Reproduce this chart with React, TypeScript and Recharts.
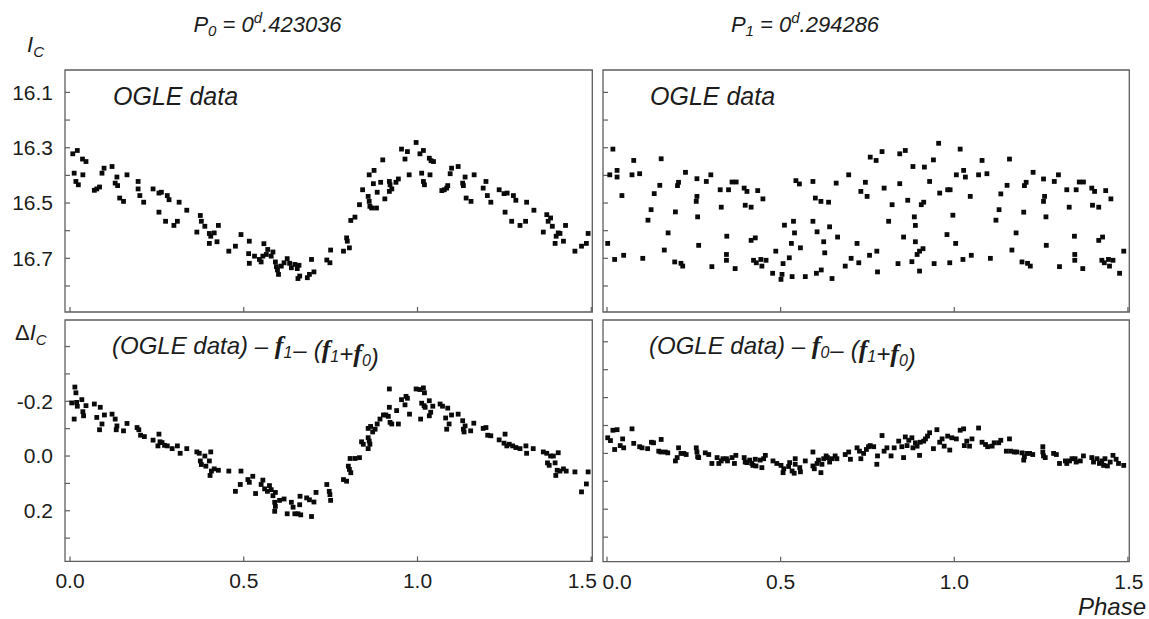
import React from 'react';
import { ScatterChart, Scatter, XAxis, YAxis, ReferenceArea } from 'recharts';

// [phase, I_C] (P0 = 0.423036 d)
const p0Ogle: [number, number][] = [
  [0.008, 16.322], [0.021, 16.31], [0.036, 16.341], [0.046, 16.35], [0.012, 16.392], [0.017, 16.422],
  [0.024, 16.434], [0.037, 16.398], [0.07, 16.454], [0.077, 16.449], [0.085, 16.442], [0.092, 16.392],
  [0.098, 16.374], [0.121, 16.368], [0.135, 16.406], [0.13, 16.428], [0.137, 16.437], [0.143, 16.482],
  [0.154, 16.494], [0.164, 16.398], [0.196, 16.422], [0.196, 16.449], [0.201, 16.473], [0.212, 16.497],
  [0.239, 16.449], [0.256, 16.464], [0.263, 16.461], [0.256, 16.533], [0.28, 16.473], [0.285, 16.488],
  [0.275, 16.566], [0.299, 16.581], [0.309, 16.566], [0.314, 16.497], [0.336, 16.526], [0.365, 16.605],
  [0.375, 16.545], [0.378, 16.566], [0.388, 16.584], [0.401, 16.61], [0.405, 16.62], [0.415, 16.608],
  [0.401, 16.646], [0.423, 16.64], [0.427, 16.581], [0.457, 16.674], [0.476, 16.656], [0.492, 16.614],
  [0.514, 16.683], [0.516, 16.718], [0.516, 16.638], [0.531, 16.692], [0.545, 16.704], [0.55, 16.713],
  [0.555, 16.692], [0.558, 16.647], [0.565, 16.686], [0.569, 16.668], [0.579, 16.692], [0.584, 16.677],
  [0.591, 16.713], [0.594, 16.73], [0.597, 16.742], [0.6, 16.758], [0.608, 16.728], [0.616, 16.716],
  [0.625, 16.701], [0.632, 16.718], [0.637, 16.734], [0.647, 16.722], [0.654, 16.737], [0.659, 16.725],
  [0.656, 16.773], [0.661, 16.764], [0.683, 16.77], [0.689, 16.758], [0.695, 16.704], [0.702, 16.749],
  [0.739, 16.706], [0.748, 16.716], [0.75, 16.67], [0.787, 16.674], [0.796, 16.626], [0.798, 16.638],
  [0.804, 16.662], [0.808, 16.563], [0.82, 16.551], [0.833, 16.506], [0.842, 16.452], [0.858, 16.476],
  [0.861, 16.494], [0.863, 16.512], [0.868, 16.518], [0.882, 16.518], [0.861, 16.398], [0.875, 16.382],
  [0.873, 16.43], [0.884, 16.461], [0.894, 16.425], [0.9, 16.344], [0.906, 16.485], [0.919, 16.422],
  [0.921, 16.434], [0.919, 16.458], [0.926, 16.449], [0.938, 16.425], [0.945, 16.413], [0.954, 16.305],
  [0.971, 16.314], [0.964, 16.341], [0.976, 16.398], [0.996, 16.281], [1.007, 16.322], [1.017, 16.31],
  [1.012, 16.392], [1.017, 16.422], [1.02, 16.434], [1.034, 16.338], [1.039, 16.347], [1.046, 16.35],
  [1.036, 16.398], [1.07, 16.455], [1.077, 16.452], [1.084, 16.446], [1.087, 16.437], [1.094, 16.394],
  [1.098, 16.374], [1.117, 16.368], [1.13, 16.428], [1.132, 16.437], [1.137, 16.406], [1.14, 16.482],
  [1.154, 16.494], [1.163, 16.398], [1.189, 16.446], [1.197, 16.422], [1.201, 16.473], [1.211, 16.497],
  [1.235, 16.452], [1.249, 16.466], [1.258, 16.464], [1.252, 16.533], [1.276, 16.473], [1.283, 16.49],
  [1.271, 16.566], [1.295, 16.581], [1.311, 16.566], [1.314, 16.497], [1.335, 16.526], [1.362, 16.605],
  [1.372, 16.542], [1.376, 16.566], [1.383, 16.554], [1.388, 16.584], [1.399, 16.62], [1.405, 16.608],
  [1.41, 16.61], [1.396, 16.646], [1.42, 16.638], [1.426, 16.581], [1.453, 16.674], [1.472, 16.656],
  [1.486, 16.646], [1.491, 16.61],
];

// [phase, I_C] right upper panel (P1 = 0.294286 d)
const p1Ogle: [number, number][] = [
  [0.002, 16.646], [0.008, 16.398], [0.017, 16.305], [0.022, 16.704], [0.029, 16.382], [0.029, 16.406],
  [0.043, 16.473], [0.048, 16.689], [0.072, 16.398], [0.077, 16.346], [0.094, 16.394], [0.103, 16.7],
  [0.118, 16.562], [0.127, 16.524], [0.136, 16.466], [0.152, 16.436], [0.156, 16.34], [0.165, 16.67],
  [0.176, 16.608], [0.195, 16.713], [0.197, 16.532], [0.203, 16.437], [0.206, 16.425], [0.213, 16.718],
  [0.218, 16.728], [0.226, 16.389], [0.257, 16.494], [0.259, 16.476], [0.261, 16.55], [0.264, 16.653],
  [0.259, 16.412], [0.286, 16.422], [0.299, 16.398], [0.302, 16.73], [0.326, 16.452], [0.329, 16.515],
  [0.345, 16.62], [0.344, 16.686], [0.344, 16.707], [0.35, 16.452], [0.36, 16.424], [0.372, 16.424],
  [0.369, 16.737], [0.395, 16.446], [0.403, 16.458], [0.398, 16.508], [0.415, 16.515], [0.415, 16.635],
  [0.427, 16.626], [0.422, 16.707], [0.43, 16.716], [0.434, 16.455], [0.443, 16.704], [0.446, 16.728],
  [0.458, 16.707], [0.449, 16.485], [0.477, 16.754], [0.486, 16.674], [0.501, 16.776], [0.504, 16.758],
  [0.507, 16.719], [0.511, 16.58], [0.525, 16.698], [0.531, 16.646], [0.533, 16.766], [0.537, 16.566],
  [0.54, 16.608], [0.544, 16.419], [0.554, 16.431], [0.557, 16.662], [0.571, 16.766], [0.593, 16.422],
  [0.593, 16.566], [0.6, 16.482], [0.603, 16.754], [0.605, 16.604], [0.616, 16.494], [0.617, 16.742],
  [0.624, 16.64], [0.627, 16.68], [0.638, 16.497], [0.641, 16.586], [0.648, 16.773], [0.66, 16.428],
  [0.664, 16.623], [0.686, 16.728], [0.696, 16.398], [0.703, 16.7], [0.72, 16.646], [0.725, 16.716],
  [0.731, 16.458], [0.744, 16.425], [0.749, 16.476], [0.756, 16.689], [0.758, 16.334], [0.775, 16.346],
  [0.777, 16.674], [0.779, 16.749], [0.792, 16.314], [0.798, 16.446], [0.811, 16.566], [0.821, 16.506],
  [0.838, 16.719], [0.843, 16.322], [0.859, 16.31], [0.843, 16.43], [0.854, 16.623], [0.866, 16.49],
  [0.878, 16.712], [0.881, 16.368], [0.885, 16.55], [0.888, 16.581], [0.888, 16.64], [0.893, 16.686],
  [0.9, 16.674], [0.91, 16.665], [0.9, 16.746], [0.905, 16.506], [0.912, 16.497], [0.914, 16.37],
  [0.929, 16.422], [0.94, 16.344], [0.942, 16.719], [0.955, 16.284], [0.958, 16.464], [0.979, 16.614],
  [0.981, 16.452], [0.988, 16.452], [0.987, 16.716], [0.996, 16.544], [1.004, 16.646], [1.017, 16.305],
  [1.006, 16.398], [1.025, 16.704], [1.027, 16.382], [1.032, 16.406], [1.046, 16.476], [1.049, 16.689],
  [1.07, 16.398], [1.08, 16.346], [1.094, 16.394], [1.104, 16.7], [1.12, 16.562], [1.129, 16.524],
  [1.134, 16.467], [1.152, 16.436], [1.159, 16.341], [1.166, 16.67], [1.178, 16.608], [1.195, 16.713],
  [1.2, 16.533], [1.211, 16.718], [1.219, 16.728], [1.202, 16.437], [1.207, 16.425], [1.227, 16.389],
  [1.257, 16.494], [1.26, 16.476], [1.264, 16.55], [1.265, 16.653], [1.257, 16.413], [1.288, 16.422],
  [1.3, 16.398], [1.303, 16.73], [1.324, 16.452], [1.331, 16.515], [1.346, 16.62], [1.347, 16.686],
  [1.347, 16.707], [1.351, 16.452], [1.36, 16.424], [1.372, 16.424], [1.37, 16.737], [1.396, 16.446],
  [1.404, 16.458], [1.398, 16.508], [1.416, 16.515], [1.416, 16.635], [1.427, 16.623], [1.425, 16.707],
  [1.432, 16.716], [1.436, 16.455], [1.444, 16.704], [1.447, 16.728], [1.457, 16.707], [1.451, 16.485],
  [1.476, 16.754], [1.488, 16.674],
];

// [phase, delta I_C] left lower panel
const p0Resid: [number, number][] = [
  [0.005, -0.194], [0.014, -0.252], [0.017, -0.231], [0.019, -0.196], [0.021, -0.182], [0.012, -0.135],
  [0.034, -0.206], [0.037, -0.162], [0.039, -0.147], [0.046, -0.184], [0.07, -0.19], [0.077, -0.141],
  [0.085, -0.096], [0.087, -0.178], [0.092, -0.117], [0.099, -0.15], [0.121, -0.153], [0.13, -0.135],
  [0.135, -0.11], [0.133, -0.096], [0.154, -0.092], [0.164, -0.119], [0.193, -0.104], [0.198, -0.096],
  [0.203, -0.076], [0.214, -0.071], [0.239, -0.058], [0.256, -0.08], [0.253, -0.037], [0.259, -0.052],
  [0.265, -0.049], [0.272, -0.039], [0.28, -0.037], [0.294, -0.027], [0.309, -0.037], [0.317, -0.01],
  [0.336, -0.027], [0.365, -0.015], [0.372, -0.01], [0.375, 0.018], [0.378, 0.031], [0.388, 0.0],
  [0.391, 0.037], [0.401, 0.018], [0.405, -0.015], [0.403, 0.071], [0.407, 0.055], [0.415, 0.047],
  [0.427, 0.052], [0.457, 0.055], [0.476, 0.129], [0.49, 0.104], [0.492, 0.055], [0.512, 0.086],
  [0.516, 0.096], [0.526, 0.074], [0.534, 0.137], [0.55, 0.104], [0.555, 0.088], [0.56, 0.12],
  [0.568, 0.129], [0.574, 0.108], [0.579, 0.123], [0.584, 0.145], [0.591, 0.133], [0.589, 0.169],
  [0.591, 0.184], [0.589, 0.202], [0.603, 0.162], [0.616, 0.157], [0.625, 0.211], [0.637, 0.169],
  [0.642, 0.187], [0.647, 0.211], [0.656, 0.211], [0.664, 0.215], [0.661, 0.178], [0.662, 0.147],
  [0.681, 0.153], [0.689, 0.16], [0.695, 0.221], [0.702, 0.168], [0.708, 0.133], [0.739, 0.104],
  [0.746, 0.129], [0.748, 0.141], [0.75, 0.162], [0.787, 0.086], [0.796, 0.092], [0.801, 0.037],
  [0.804, 0.049], [0.808, 0.061], [0.806, 0.009], [0.82, 0.009], [0.833, 0.006], [0.839, -0.052],
  [0.844, -0.043], [0.858, -0.067], [0.861, -0.055], [0.863, -0.043], [0.858, -0.027], [0.858, -0.101],
  [0.865, -0.108], [0.871, -0.088], [0.878, -0.098], [0.884, -0.117], [0.892, -0.135], [0.902, -0.15],
  [0.909, -0.15], [0.916, -0.145], [0.919, -0.178], [0.921, -0.123], [0.926, -0.117], [0.919, -0.245],
  [0.94, -0.166], [0.945, -0.117], [0.954, -0.206], [0.967, -0.218], [0.971, -0.211], [0.964, -0.187],
  [0.977, -0.153], [0.996, -0.245], [1.007, -0.243], [1.009, -0.135], [1.012, -0.193], [1.019, -0.184],
  [1.022, -0.178], [1.017, -0.249], [1.02, -0.231], [1.034, -0.202], [1.038, -0.16], [1.044, -0.182],
  [1.034, -0.147], [1.065, -0.19], [1.072, -0.182], [1.087, -0.175], [1.081, -0.139], [1.084, -0.098],
  [1.091, -0.117], [1.098, -0.15], [1.117, -0.153], [1.13, -0.129], [1.132, -0.098], [1.137, -0.11],
  [1.134, -0.088], [1.153, -0.092], [1.162, -0.12], [1.189, -0.101], [1.197, -0.104], [1.202, -0.076],
  [1.211, -0.074], [1.235, -0.059], [1.249, -0.047], [1.252, -0.08], [1.257, -0.037], [1.264, -0.043],
  [1.274, -0.037], [1.283, -0.031], [1.295, -0.027], [1.312, -0.037], [1.314, -0.01], [1.333, -0.027],
  [1.362, -0.015], [1.372, -0.01], [1.374, 0.025], [1.379, 0.034], [1.383, 0.0], [1.391, 0.0],
  [1.396, 0.025], [1.398, 0.071], [1.402, 0.052], [1.41, 0.055], [1.405, -0.012], [1.42, 0.047],
  [1.428, 0.055], [1.453, 0.058], [1.472, 0.131], [1.486, 0.102], [1.491, 0.058],
];

// [phase, delta I_C] right lower panel
const p1Resid: [number, number][] = [
  [0.002, -0.056], [0.01, -0.046], [0.017, -0.083], [0.029, -0.085], [0.022, -0.014], [0.038, -0.028],
  [0.048, -0.02], [0.045, -0.052], [0.072, -0.088], [0.077, -0.036], [0.094, -0.024], [0.101, -0.02],
  [0.117, -0.017], [0.128, -0.04], [0.134, -0.038], [0.156, -0.05], [0.149, -0.008], [0.155, -0.005],
  [0.168, -0.005], [0.175, -0.002], [0.197, 0.027], [0.202, 0.015], [0.206, -0.02], [0.213, 0.0],
  [0.221, 0.0], [0.228, 0.004], [0.257, -0.02], [0.259, -0.005], [0.261, 0.012], [0.264, 0.015],
  [0.283, -0.002], [0.293, 0.004], [0.302, 0.036], [0.317, 0.015], [0.322, 0.036], [0.329, 0.027],
  [0.334, 0.019], [0.344, 0.019], [0.347, 0.027], [0.36, 0.015], [0.367, 0.036], [0.371, 0.007],
  [0.395, 0.015], [0.398, 0.031], [0.403, 0.033], [0.411, 0.024], [0.417, 0.036], [0.42, 0.043],
  [0.427, 0.021], [0.429, 0.045], [0.441, 0.024], [0.446, 0.051], [0.451, 0.019], [0.456, 0.007],
  [0.478, 0.027], [0.489, 0.036], [0.501, 0.043], [0.507, 0.069], [0.509, 0.055], [0.523, 0.047],
  [0.526, 0.033], [0.533, 0.063], [0.539, 0.071], [0.542, 0.039], [0.542, 0.019], [0.555, 0.051],
  [0.557, 0.066], [0.571, 0.027], [0.593, -0.005], [0.593, 0.045], [0.597, 0.055], [0.605, 0.036],
  [0.609, 0.024], [0.616, 0.069], [0.619, 0.039], [0.624, 0.019], [0.631, 0.009], [0.635, 0.015],
  [0.641, 0.031], [0.648, 0.019], [0.657, 0.009], [0.662, 0.019], [0.686, 0.004], [0.696, -0.005],
  [0.701, 0.021], [0.72, -0.02], [0.727, -0.008], [0.731, 0.019], [0.739, 0.0], [0.747, -0.014],
  [0.753, -0.024], [0.758, -0.028], [0.768, -0.024], [0.777, 0.039], [0.779, 0.009], [0.792, -0.064],
  [0.798, -0.008], [0.806, -0.02], [0.818, 0.009], [0.827, -0.02], [0.84, -0.044], [0.849, -0.024],
  [0.854, 0.015], [0.859, -0.059], [0.864, -0.028], [0.869, -0.047], [0.878, -0.056], [0.881, -0.02],
  [0.888, -0.038], [0.893, -0.026], [0.9, 0.007], [0.902, -0.04], [0.912, -0.044], [0.917, -0.052],
  [0.923, -0.062], [0.929, -0.074], [0.94, -0.017], [0.95, -0.085], [0.958, -0.04], [0.965, -0.052],
  [0.971, -0.026], [0.981, -0.062], [0.987, -0.012], [0.993, -0.056], [1.006, -0.052], [1.017, -0.083],
  [1.027, -0.088], [1.029, -0.028], [1.036, -0.044], [1.044, -0.026], [1.051, -0.052], [1.07, -0.091],
  [1.08, -0.04], [1.09, -0.032], [1.096, -0.024], [1.109, -0.026], [1.115, -0.038], [1.128, -0.038],
  [1.134, -0.047], [1.15, -0.008], [1.159, -0.052], [1.163, -0.008], [1.173, -0.005], [1.18, -0.005],
  [1.195, -0.002], [1.2, 0.024], [1.202, 0.012], [1.209, 0.0], [1.217, 0.0], [1.226, 0.004],
  [1.255, -0.024], [1.255, -0.005], [1.257, 0.009], [1.262, 0.015], [1.286, 0.0], [1.294, 0.004],
  [1.303, 0.036], [1.32, 0.027], [1.324, 0.036], [1.332, 0.027], [1.339, 0.019], [1.348, 0.019],
  [1.351, 0.031], [1.363, 0.027], [1.372, 0.009], [1.396, 0.015], [1.401, 0.031], [1.411, 0.019],
  [1.418, 0.036], [1.425, 0.027], [1.43, 0.043], [1.434, 0.019], [1.441, 0.045], [1.449, 0.031],
  [1.457, 0.007], [1.466, 0.021], [1.473, 0.036], [1.488, 0.043],
];

const phaseTicks = [0, 0.5, 1.0, 1.5];
const magTicks = [16.1, 16.2, 16.3, 16.4, 16.5, 16.6, 16.7, 16.8];
const magLabels = [16.1, 16.3, 16.5, 16.7];
const residTicks = [-0.4, -0.3, -0.2, -0.1, 0, 0.1, 0.2, 0.3];
const residLabels = [-0.2, 0, 0.2];

const SANS = '"Liberation Sans", Arial, Helvetica, sans-serif';
const SERIF = '"Liberation Serif", "Times New Roman", serif';
const FRAME = '#5e5e5e';
const INK = '#1c1c1c';

type Box = { x: number; y: number; w: number; h: number };

const Square = (props: any) => {
  const { cx, cy } = props;
  if (cx == null || cy == null) return null;
  return <rect x={cx - 2.4} y={cy - 2.4} width={4.8} height={4.8} fill="#0a0a0a" />;
};

function Panel({
  points, box, xDomain, yDomain, yTicks, yLabels, showX, edgeShift,
}: {
  points: [number, number][];
  box: Box;
  xDomain: [number, number];
  yDomain: [number, number];
  yTicks: number[];
  yLabels: number[];
  showX: boolean;
  edgeShift: Record<string, number>;
}) {
  const data = points.map(([x, y]) => ({ x, y }));
  const yFmt = (v: number) =>
    yLabels.some((l) => Math.abs(l - v) < 1e-6) ? (Math.abs(v) < 1e-9 ? '0.0' : v.toFixed(1)) : '';

  // phase labels; the two labels that meet between the panels are nudged apart as in the original
  const XTick = (props: any) => {
    if (!showX) return null;
    const { x, y, payload } = props;
    const label = Number(payload.value).toFixed(1);
    const dx = edgeShift[label] ?? 0;
    return (
      <text x={x + dx} y={y} dy="0.71em" textAnchor="middle" fill={INK} fontSize={21} fontFamily={SANS}>
        {label}
      </text>
    );
  };

  return (
    <div style={{ position: 'absolute', left: box.x - 65, top: box.y - 30 }}>
      <ScatterChart
        width={box.w + 90}
        height={box.h + 70}
        margin={{ top: 30, right: 25, bottom: 0, left: 0 }}
      >
        <XAxis
          type="number"
          dataKey="x"
          domain={xDomain}
          ticks={phaseTicks}
          interval={0}
          allowDataOverflow
          height={40}
          axisLine={false}
          tickSize={-5}
          tickMargin={17}
          tickLine={{ stroke: FRAME, strokeWidth: 1.2 }}
          tick={XTick}
        />
        <YAxis
          type="number"
          dataKey="y"
          domain={yDomain}
          reversed
          ticks={yTicks}
          interval={0}
          allowDataOverflow
          width={65}
          axisLine={false}
          tickSize={-5}
          tickMargin={17}
          tickLine={{ stroke: FRAME, strokeWidth: 1.2 }}
          tick={{ fill: INK, fontSize: 21, fontFamily: SANS }}
          tickFormatter={yFmt}
        />
        <ReferenceArea
          x1={xDomain[0]}
          x2={xDomain[1]}
          y1={yDomain[0]}
          y2={yDomain[1]}
          fill="none"
          fillOpacity={0}
          stroke={FRAME}
          strokeWidth={1.3}
          ifOverflow="visible"
        />
        <Scatter data={data} shape={Square} isAnimationActive={false} />
      </ScatterChart>
    </div>
  );
}

const F = ({ n }: { n: string }) => (
  <>
    <tspan fontFamily={SERIF} fontWeight="bold" fontStyle="italic" fontSize={26}>f</tspan>
    <tspan fontSize={16} dy={4}>{n}</tspan>
    <tspan dy={-4}>{''}</tspan>
  </>
);

export default function App() {
  const topL: Box = { x: 65, y: 70, w: 527.3, h: 242 };
  const topR: Box = { x: 602.7, y: 70, w: 526.3, h: 242 };
  const botL: Box = { x: 65, y: 320.3, w: 527.3, h: 241.4 };
  const botR: Box = { x: 602.7, y: 320.3, w: 526.3, h: 241.7 };
  const xL: [number, number] = [-0.0144, 1.503];
  const xR: [number, number] = [-0.0115, 1.504];
  const magDom: [number, number] = [16.019, 16.894];

  return (
    <div
      style={{
        position: 'absolute',
        left: 0,
        top: 0,
        width: 1149,
        height: 619,
        background: '#fff',
        fontFamily: SANS,
        overflow: 'hidden',
      }}
    >
      <Panel points={p0Ogle} box={topL} xDomain={xL} yDomain={magDom} yTicks={magTicks} yLabels={magLabels} showX={false} edgeShift={{}} />
      <Panel points={p1Ogle} box={topR} xDomain={xR} yDomain={magDom} yTicks={magTicks} yLabels={[]} showX={false} edgeShift={{}} />
      <Panel points={p0Resid} box={botL} xDomain={xL} yDomain={[-0.497, 0.385]} yTicks={residTicks} yLabels={residLabels} showX edgeShift={{ '1.5': -9 }} />
      <Panel points={p1Resid} box={botR} xDomain={xR} yDomain={[-0.478, 0.388]} yTicks={residTicks} yLabels={[]} showX edgeShift={{ '0.0': 10, '1.5': 1 }} />

      <svg
        width={1149}
        height={619}
        style={{ position: 'absolute', left: 0, top: 0, pointerEvents: 'none' }}
        fontFamily={SANS}
        fill={INK}
      >
        <text x={267.5} y={31.5} textAnchor="middle" fontSize={22} fontStyle="italic">
          P<tspan fontSize={15} dy={4}>0</tspan>
          <tspan dy={-4}> = 0</tspan>
          <tspan fontSize={15} dy={-9}>d</tspan>
          <tspan dy={9}>.423036</tspan>
        </text>
        <text x={805} y={31.5} textAnchor="middle" fontSize={22} fontStyle="italic">
          P<tspan fontSize={15} dy={4}>1</tspan>
          <tspan dy={-4}> = 0</tspan>
          <tspan fontSize={15} dy={-9}>d</tspan>
          <tspan dy={9}>.294286</tspan>
        </text>

        <text x={27} y={52} fontSize={22} fontStyle="italic">
          I<tspan fontSize={15} dy={5}>C</tspan>
        </text>
        <text x={15} y={340} fontSize={22} fontStyle="italic">
          <tspan fontStyle="normal">Δ</tspan>I<tspan fontSize={15} dy={5}>C</tspan>
        </text>

        <text x={113} y={105} fontSize={25} fontStyle="italic">OGLE data</text>
        <text x={650} y={105} fontSize={25} fontStyle="italic">OGLE data</text>

        <text x={112} y={354} fontSize={24} fontStyle="italic">
          (OGLE data) – <F n="1" />
          <tspan dx={1}>–</tspan>
          <tspan dx={7}>(</tspan>
          <F n="1" />+<F n="0" />)
        </text>
        <text x={649} y={354} fontSize={24} fontStyle="italic">
          (OGLE data) – <F n="0" />
          <tspan dx={1}>–</tspan>
          <tspan dx={7}>(</tspan>
          <F n="1" />+<F n="0" />)
        </text>

        <text x={1146} y={615} textAnchor="end" fontSize={24} fontStyle="italic">Phase</text>
      </svg>
    </div>
  );
}
